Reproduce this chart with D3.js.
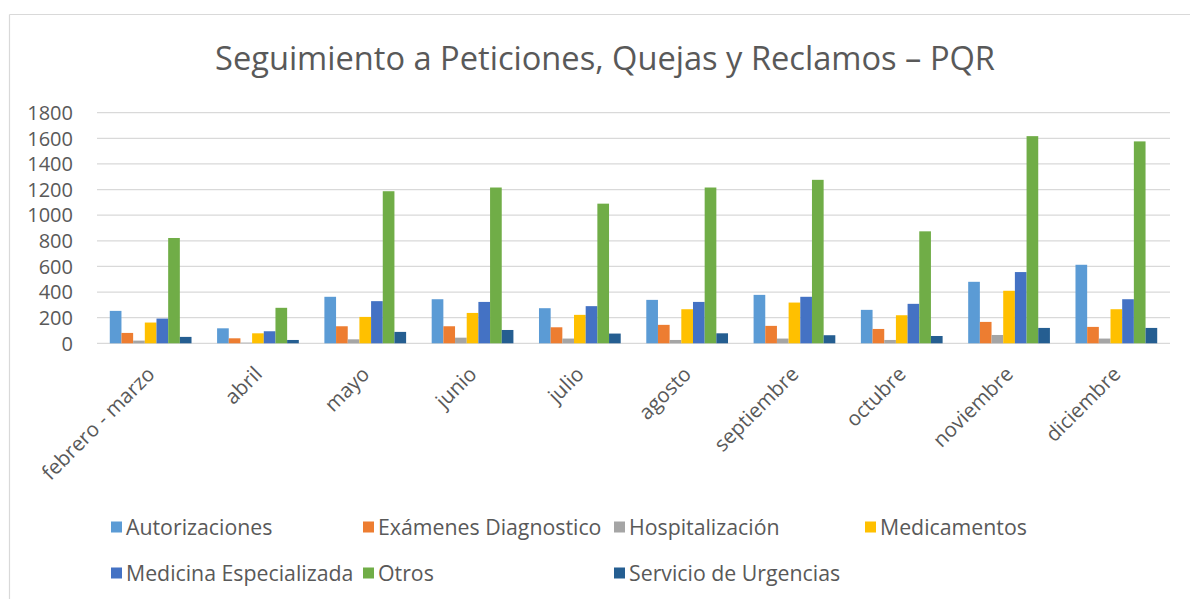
<!DOCTYPE html>
<html>
<head>
<meta charset="utf-8">
<script src="https://cdn.jsdelivr.net/npm/d3@7"></script>
<style>
  body { margin: 0; background: #fff; }
  text { font-family: "Open Sans", "DejaVu Sans", sans-serif; fill: #595959; }
</style>
</head>
<body>
<script>
// Data
var months = ["febrero - marzo", "abril", "mayo", "junio", "julio", "agosto",
              "septiembre", "octubre", "noviembre", "diciembre"];
var seriesNames = ["Autorizaciones", "Exámenes Diagnostico", "Hospitalización", "Medicamentos",
                   "Medicina Especializada", "Otros", "Servicio de Urgencias"];
var autorizaciones = [253, 117, 363, 344, 274, 339, 378, 261, 480, 613];
var examenes       = [81, 39, 133, 133, 125, 144, 136, 112, 167, 128];
var hospitalizacion = [21, 5, 31, 44, 37, 26, 37, 26, 65, 37];
var medicamentos   = [162, 78, 206, 237, 222, 266, 318, 219, 410, 266];
var medicinaEsp    = [193, 94, 329, 323, 290, 323, 363, 308, 556, 344];
var otros          = [822, 277, 1187, 1216, 1090, 1216, 1276, 874, 1617, 1576];
var urgencias      = [50, 26, 89, 104, 76, 78, 63, 57, 120, 120];
var yTicks = [0, 200, 400, 600, 800, 1000, 1200, 1400, 1600, 1800];

var colors = ["#5B9BD5", "#ED7D31", "#A5A5A5", "#FFC000", "#4472C4", "#70AD47", "#255E91"];
var allSeries = [autorizaciones, examenes, hospitalizacion, medicamentos, medicinaEsp, otros, urgencias];

//Width and height
var w = 1190;
var h = 599;

var svg = d3.select("body")
            .append("svg")
            .attr("width", w)
            .attr("height", h);

// chart frame (cropped on right and bottom)
svg.append("line")
    .attr("x1", 9.5).attr("y1", 14.5).attr("x2", w).attr("y2", 14.5)
    .style("stroke", "#d9d9d9").style("stroke-width", 1.2);
svg.append("line")
    .attr("x1", 9.5).attr("y1", 14.5).attr("x2", 9.5).attr("y2", h)
    .style("stroke", "#d9d9d9").style("stroke-width", 1.2);

//Title
svg.append("text")
    .text("Seguimiento a Peticiones, Quejas y Reclamos – PQR")
    .attr("x", 605)
    .attr("y", 70)
    .attr("text-anchor", "middle")
    .attr("textLength", 780)
    .attr("lengthAdjust", "spacingAndGlyphs")
    .style("font-size", "33px");

var x0 = d3.scaleBand()
    .domain(months)
    .range([97, 1170]);

var x1 = d3.scaleBand()
    .domain(d3.range(seriesNames.length))
    .range([0, x0.bandwidth()])
    .paddingOuter(1.095);

var y = d3.scaleLinear()
    .domain([0, 1800])
    .range([343.3, 112.7]);

//gridlines
svg.selectAll("line.grid")
    .data(yTicks)
    .enter()
    .append("line")
    .attr("class", "grid")
    .attr("x1", 97)
    .attr("x2", 1170)
    .attr("y1", function(d) { return y(d); })
    .attr("y2", function(d) { return y(d); })
    .style("stroke", "#d9d9d9")
    .style("stroke-width", 1.3);

//y labels
svg.selectAll("text.ytick")
    .data(yTicks)
    .enter()
    .append("text")
    .attr("class", "ytick")
    .attr("x", 73)
    .attr("y", function(d) { return y(d); })
    .attr("dy", "0.36em")
    .attr("text-anchor", "end")
    .style("font-size", "20px")
    .text(function(d) { return d; });

//bars
var groups = svg.selectAll("g.month")
    .data(months)
    .enter()
    .append("g")
    .attr("class", "month")
    .attr("transform", function(d) { return "translate(" + x0(d) + ",0)"; });

groups.selectAll("rect")
    .data(function(d, i) {
        return allSeries.map(function(s, k) { return {k: k, v: s[i]}; });
    })
    .enter()
    .append("rect")
    .attr("x", function(d) { return x1(d.k); })
    .attr("width", x1.bandwidth())
    .attr("y", function(d) { return y(d.v); })
    .attr("height", function(d) { return y(0) - y(d.v); })
    .style("fill", function(d) { return colors[d.k]; });

//x labels, rotated
svg.selectAll("text.xtick")
    .data(months)
    .enter()
    .append("text")
    .attr("class", "xtick")
    .attr("text-anchor", "end")
    .attr("transform", function(d) {
        return "translate(" + (x0(d) + x0.bandwidth() / 2 - 5) + ",365) rotate(-45)";
    })
    .attr("dy", "0.72em")
    .style("font-size", "20.5px")
    .text(function(d) { return d; });

//legend
var legX = [111, 363, 614, 865];
var legY = [527, 573];
var legend = svg.selectAll("g.leg")
    .data(seriesNames)
    .enter()
    .append("g")
    .attr("class", "leg")
    .attr("transform", function(d, i) {
        return "translate(" + legX[i % 4] + "," + legY[Math.floor(i / 4)] + ")";
    });

legend.append("rect")
    .attr("x", 0)
    .attr("y", -5.5)
    .attr("width", 11)
    .attr("height", 11)
    .style("fill", function(d, i) { return colors[i]; });

legend.append("text")
    .attr("x", 15)
    .attr("y", 0)
    .attr("dy", "0.36em")
    .style("font-size", "21.3px")
    .text(function(d) { return d; });
</script>
</body>
</html>
